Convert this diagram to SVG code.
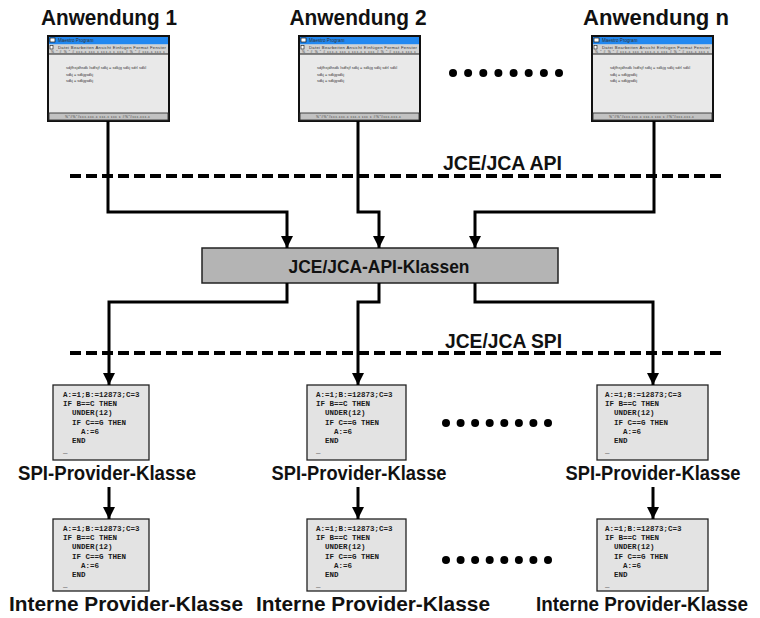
<svg xmlns="http://www.w3.org/2000/svg" width="760" height="618" viewBox="0 0 760 618">
  <style>
    .title { font-family: "Liberation Sans", Arial, sans-serif; font-weight: bold; font-size: 21.5px; fill: #111; text-anchor: middle; }
    .label { font-family: "Liberation Sans", Arial, sans-serif; font-weight: bold; font-size: 20.5px; fill: #111; text-anchor: middle; }
    .box-label { font-family: "Liberation Sans", Arial, sans-serif; font-weight: bold; font-size: 19px; fill: #111; text-anchor: middle; }
    .layer { font-family: "Liberation Sans", Arial, sans-serif; font-weight: bold; font-size: 20px; fill: #111; }
    .win-frame { fill: #e9e9e9; stroke: #111; stroke-width: 2; }
    .win-title { fill: #2288f0; }
    .win-menu { fill: #d2d2d2; }
    .win-status { fill: #c2c2c2; stroke: #333; stroke-width: 0.9; }
    .win-sep { stroke: #222; stroke-width: 1; }
    .tiny { font-family: "Liberation Sans", Arial, sans-serif; fill: #333; }
    .code-box { fill: #e3e3e3; stroke: #222; stroke-width: 1.3; }
    .code { font-family: "Liberation Mono", "Courier New", monospace; font-weight: bold; font-size: 7.5px; fill: #1a1a1a; white-space: pre; }
    .api-box { fill: #b4b4b4; stroke: #222; stroke-width: 1.5; }
    .conn { fill: none; stroke: #000; stroke-width: 3; }
    .dash { fill: none; stroke: #000; stroke-width: 4; stroke-dasharray: 11 5; }
    .dot { fill: #000; }
  </style>
  <defs>
    <marker id="arrow" markerUnits="userSpaceOnUse" markerWidth="12" markerHeight="12" viewBox="0 0 12 12" refX="12" refY="6" orient="auto">
      <path d="M0,0 L12,6 L0,12 Z" fill="#000"/>
    </marker>
  </defs>

  <!-- application windows -->
  <g id="app1">
    <text class="title" x="109" y="25" textLength="136" lengthAdjust="spacingAndGlyphs">Anwendung 1</text>
    <g transform="translate(48,36)">
      <rect class="win-frame" x="0" y="0" width="121" height="85"/>
      <rect class="win-title" x="1" y="1" width="119" height="7.5"/>
      <rect x="2" y="2" width="5" height="4" fill="#fff" stroke="#111" stroke-width="0.7"/>
      <text class="tiny" x="10" y="6.3" font-size="4.6" fill="#0b2a66">Maestro Program</text>
      <rect class="win-menu" x="1" y="8.5" width="119" height="9.5"/>
      <rect x="2" y="9.5" width="3" height="3.5" fill="#fff" stroke="#111" stroke-width="0.6"/>
      <text class="tiny" x="10" y="12.6" font-size="4.2" textLength="108">Datei   Bearbeiten   Ansicht   Einfügen   Format   Fenster</text>
      <text class="tiny" x="3" y="16.8" font-size="3.4" textLength="114">%  "  #  % "  # ccc.c ccc c ccc.c c  ccc  #  % " # ccc.c ccc c</text>
      <line class="win-sep" x1="1" y1="18" x2="120" y2="18"/>
      <text class="tiny" x="18" y="33" font-size="3.8" textLength="80">sdjfhsjdhsdk lsdfsjf sdkj = sdkjg sdkj sdrl sdkl</text>
      <text class="tiny" x="18" y="39.5" font-size="3.8" textLength="27">sdkj = sdkjgsdkj</text>
      <text class="tiny" x="18" y="46" font-size="3.8" textLength="27">sdkj = sdkjgsdkj</text>
      <rect class="win-status" x="1" y="77" width="119" height="7"/>
      <text class="tiny" x="17" y="82.3" font-size="3.4" textLength="85">%"#%"#ccc.ccc.c ccc.c ccc c #%"#ccc.ccc.c</text>
    </g>
  </g>

  <g id="app2">
    <text class="title" x="358" y="25" textLength="137" lengthAdjust="spacingAndGlyphs">Anwendung 2</text>
    <g transform="translate(299,36)">
      <rect class="win-frame" x="0" y="0" width="121" height="85"/>
      <rect class="win-title" x="1" y="1" width="119" height="7.5"/>
      <rect x="2" y="2" width="5" height="4" fill="#fff" stroke="#111" stroke-width="0.7"/>
      <text class="tiny" x="10" y="6.3" font-size="4.6" fill="#0b2a66">Maestro Program</text>
      <rect class="win-menu" x="1" y="8.5" width="119" height="9.5"/>
      <rect x="2" y="9.5" width="3" height="3.5" fill="#fff" stroke="#111" stroke-width="0.6"/>
      <text class="tiny" x="10" y="12.6" font-size="4.2" textLength="108">Datei   Bearbeiten   Ansicht   Einfügen   Format   Fenster</text>
      <text class="tiny" x="3" y="16.8" font-size="3.4" textLength="114">%  "  #  % "  # ccc.c ccc c ccc.c c  ccc  #  % " # ccc.c ccc c</text>
      <line class="win-sep" x1="1" y1="18" x2="120" y2="18"/>
      <text class="tiny" x="18" y="33" font-size="3.8" textLength="80">sdjfhsjdhsdk lsdfsjf sdkj = sdkjg sdkj sdrl sdkl</text>
      <text class="tiny" x="18" y="39.5" font-size="3.8" textLength="27">sdkj = sdkjgsdkj</text>
      <text class="tiny" x="18" y="46" font-size="3.8" textLength="27">sdkj = sdkjgsdkj</text>
      <rect class="win-status" x="1" y="77" width="119" height="7"/>
      <text class="tiny" x="17" y="82.3" font-size="3.4" textLength="85">%"#%"#ccc.ccc.c ccc.c ccc c #%"#ccc.ccc.c</text>
    </g>
  </g>

  <g id="appN">
    <text class="title" x="656" y="25" textLength="146" lengthAdjust="spacingAndGlyphs">Anwendung n</text>
    <g transform="translate(592,36)">
      <rect class="win-frame" x="0" y="0" width="121" height="85"/>
      <rect class="win-title" x="1" y="1" width="119" height="7.5"/>
      <rect x="2" y="2" width="5" height="4" fill="#fff" stroke="#111" stroke-width="0.7"/>
      <text class="tiny" x="10" y="6.3" font-size="4.6" fill="#0b2a66">Maestro Program</text>
      <rect class="win-menu" x="1" y="8.5" width="119" height="9.5"/>
      <rect x="2" y="9.5" width="3" height="3.5" fill="#fff" stroke="#111" stroke-width="0.6"/>
      <text class="tiny" x="10" y="12.6" font-size="4.2" textLength="108">Datei   Bearbeiten   Ansicht   Einfügen   Format   Fenster</text>
      <text class="tiny" x="3" y="16.8" font-size="3.4" textLength="114">%  "  #  % "  # ccc.c ccc c ccc.c c  ccc  #  % " # ccc.c ccc c</text>
      <line class="win-sep" x1="1" y1="18" x2="120" y2="18"/>
      <text class="tiny" x="18" y="33" font-size="3.8" textLength="80">sdjfhsjdhsdk lsdfsjf sdkj = sdkjg sdkj sdrl sdkl</text>
      <text class="tiny" x="18" y="39.5" font-size="3.8" textLength="27">sdkj = sdkjgsdkj</text>
      <text class="tiny" x="18" y="46" font-size="3.8" textLength="27">sdkj = sdkjgsdkj</text>
      <rect class="win-status" x="1" y="77" width="119" height="7"/>
      <text class="tiny" x="17" y="82.3" font-size="3.4" textLength="85">%"#%"#ccc.ccc.c ccc.c ccc c #%"#ccc.ccc.c</text>
    </g>
  </g>

  <!-- ellipsis rows -->
  <g id="dots-apps">
    <circle class="dot" cx="453" cy="73" r="4"/><circle class="dot" cx="468.1" cy="73" r="4"/>
    <circle class="dot" cx="483.3" cy="73" r="4"/><circle class="dot" cx="498.4" cy="73" r="4"/>
    <circle class="dot" cx="513.6" cy="73" r="4"/><circle class="dot" cx="528.7" cy="73" r="4"/>
    <circle class="dot" cx="543.9" cy="73" r="4"/><circle class="dot" cx="559" cy="73" r="4"/>
  </g>
  <g id="dots-spi">
    <circle class="dot" cx="446" cy="423" r="4"/><circle class="dot" cx="460.6" cy="423" r="4"/>
    <circle class="dot" cx="475.1" cy="423" r="4"/><circle class="dot" cx="489.7" cy="423" r="4"/>
    <circle class="dot" cx="504.3" cy="423" r="4"/><circle class="dot" cx="518.9" cy="423" r="4"/>
    <circle class="dot" cx="533.4" cy="423" r="4"/><circle class="dot" cx="548" cy="423" r="4"/>
  </g>
  <g id="dots-internal">
    <circle class="dot" cx="446" cy="560" r="4"/><circle class="dot" cx="460.6" cy="560" r="4"/>
    <circle class="dot" cx="475.1" cy="560" r="4"/><circle class="dot" cx="489.7" cy="560" r="4"/>
    <circle class="dot" cx="504.3" cy="560" r="4"/><circle class="dot" cx="518.9" cy="560" r="4"/>
    <circle class="dot" cx="533.4" cy="560" r="4"/><circle class="dot" cx="548" cy="560" r="4"/>
  </g>

  <!-- layer boundaries -->
  <g id="api-boundary">
    <line class="dash" x1="70" y1="176" x2="726" y2="176"/>
    <text class="layer" x="443" y="170" textLength="119" lengthAdjust="spacingAndGlyphs">JCE/JCA API</text>
  </g>
  <g id="spi-boundary">
    <line class="dash" x1="70" y1="353" x2="726" y2="353"/>
    <text class="layer" x="445" y="348" textLength="117" lengthAdjust="spacingAndGlyphs">JCE/JCA SPI</text>
  </g>

  <!-- central API classes -->
  <g id="api-classes">
    <rect class="api-box" x="202" y="248" width="356" height="35"/>
    <text class="box-label" x="379" y="273" textLength="181" lengthAdjust="spacingAndGlyphs">JCE/JCA-API-Klassen</text>
  </g>

  <!-- SPI provider classes -->
  <g id="spi1">
    <rect class="code-box" x="53" y="385" width="96" height="75"/>
    <text class="code" x="63" y="397">A:=1;B:=12873;C=3</text>
    <text class="code" x="63" y="406">IF B==C THEN</text>
    <text class="code" x="63" y="415.3">  UNDER(12)</text>
    <text class="code" x="63" y="424.6">  IF C==G THEN</text>
    <text class="code" x="63" y="434">    A:=6</text>
    <text class="code" x="63" y="443.3">  END</text>
    <text class="code" x="63" y="453">_</text>
    <text class="label" x="107" y="480" textLength="178" lengthAdjust="spacingAndGlyphs">SPI-Provider-Klasse</text>
  </g>
  <g id="spi2">
    <rect class="code-box" x="307" y="385" width="99" height="75"/>
    <text class="code" x="316" y="397">A:=1;B:=12873;C=3</text>
    <text class="code" x="316" y="406">IF B==C THEN</text>
    <text class="code" x="316" y="415.3">  UNDER(12)</text>
    <text class="code" x="316" y="424.6">  IF C==G THEN</text>
    <text class="code" x="316" y="434">    A:=6</text>
    <text class="code" x="316" y="443.3">  END</text>
    <text class="code" x="316" y="453">_</text>
    <text class="label" x="359" y="480" textLength="175" lengthAdjust="spacingAndGlyphs">SPI-Provider-Klasse</text>
  </g>
  <g id="spi3">
    <rect class="code-box" x="597" y="385" width="111" height="75"/>
    <text class="code" x="605" y="397">A:=1;B:=12873;C=3</text>
    <text class="code" x="605" y="406">IF B==C THEN</text>
    <text class="code" x="605" y="415.3">  UNDER(12)</text>
    <text class="code" x="605" y="424.6">  IF C==G THEN</text>
    <text class="code" x="605" y="434">    A:=6</text>
    <text class="code" x="605" y="443.3">  END</text>
    <text class="code" x="605" y="453">_</text>
    <text class="label" x="653" y="480" textLength="175" lengthAdjust="spacingAndGlyphs">SPI-Provider-Klasse</text>
  </g>

  <!-- internal provider classes -->
  <g id="int1">
    <rect class="code-box" x="53" y="519" width="96" height="72"/>
    <text class="code" x="63" y="531">A:=1;B:=12873;C=3</text>
    <text class="code" x="63" y="540">IF B==C THEN</text>
    <text class="code" x="63" y="549.3">  UNDER(12)</text>
    <text class="code" x="63" y="558.6">  IF C==G THEN</text>
    <text class="code" x="63" y="568">    A:=6</text>
    <text class="code" x="63" y="577.3">  END</text>
    <text class="code" x="63" y="587">_</text>
    <text class="label" x="126" y="611" textLength="234" lengthAdjust="spacingAndGlyphs">Interne Provider-Klasse</text>
  </g>
  <g id="int2">
    <rect class="code-box" x="307" y="519" width="99" height="72"/>
    <text class="code" x="316" y="531">A:=1;B:=12873;C=3</text>
    <text class="code" x="316" y="540">IF B==C THEN</text>
    <text class="code" x="316" y="549.3">  UNDER(12)</text>
    <text class="code" x="316" y="558.6">  IF C==G THEN</text>
    <text class="code" x="316" y="568">    A:=6</text>
    <text class="code" x="316" y="577.3">  END</text>
    <text class="code" x="316" y="587">_</text>
    <text class="label" x="373" y="611" textLength="234" lengthAdjust="spacingAndGlyphs">Interne Provider-Klasse</text>
  </g>
  <g id="int3">
    <rect class="code-box" x="597" y="519" width="111" height="72"/>
    <text class="code" x="605" y="531">A:=1;B:=12873;C=3</text>
    <text class="code" x="605" y="540">IF B==C THEN</text>
    <text class="code" x="605" y="549.3">  UNDER(12)</text>
    <text class="code" x="605" y="558.6">  IF C==G THEN</text>
    <text class="code" x="605" y="568">    A:=6</text>
    <text class="code" x="605" y="577.3">  END</text>
    <text class="code" x="605" y="587">_</text>
    <text class="label" x="642" y="611" font-size="18.5" textLength="212" lengthAdjust="spacingAndGlyphs">Interne Provider-Klasse</text>
  </g>

  <!-- connectors -->
  <g id="connectors">
    <path class="conn" d="M108,121 V212 H287 V248" marker-end="url(#arrow)"/>
    <path class="conn" d="M358,121 V212 H379 V248" marker-end="url(#arrow)"/>
    <path class="conn" d="M654,121 V212 H475 V248" marker-end="url(#arrow)"/>
    <path class="conn" d="M287,283 V302 H109 V385" marker-end="url(#arrow)"/>
    <path class="conn" d="M379,283 V302 H358 V385" marker-end="url(#arrow)"/>
    <path class="conn" d="M475,283 V302 H653 V385" marker-end="url(#arrow)"/>
    <path class="conn" d="M109,487 V519" marker-end="url(#arrow)"/>
    <path class="conn" d="M358,487 V519" marker-end="url(#arrow)"/>
    <path class="conn" d="M653,487 V519" marker-end="url(#arrow)"/>
  </g>
</svg>
